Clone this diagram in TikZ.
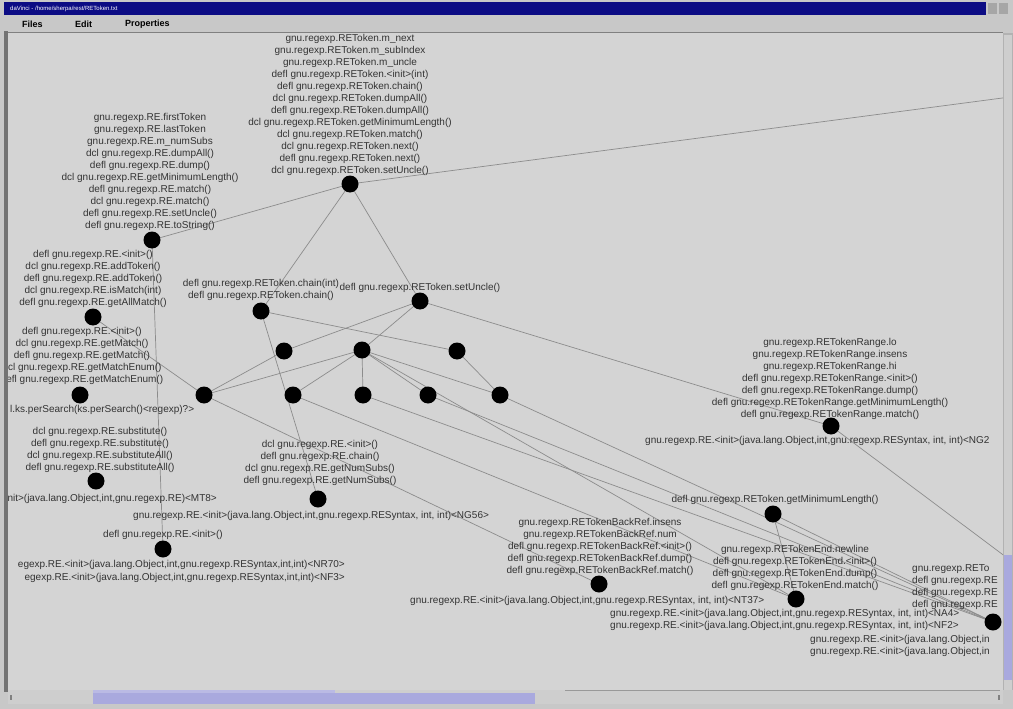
\documentclass[tikz,border=0pt]{standalone}
\usepackage{fontspec}
\setmainfont{Liberation Sans}
\definecolor{canvas}{HTML}{D4D4D4}
\definecolor{frame}{HTML}{C8C8C8}
\definecolor{navy}{HTML}{0C0C84}
\definecolor{lav}{HTML}{A9A9DE}
\begin{document}
\begin{tikzpicture}[x=1pt,y=-1pt,
  dot/.style={circle,fill=black,inner sep=0pt,minimum size=17pt},
  lbl/.style={font=\fontsize{10}{12}\selectfont,align=center,inner sep=0pt,text=black!80},
  edge/.style={draw=black!45,line width=0.7pt},
  menu/.style={font=\fontsize{9}{10}\selectfont\bfseries,inner sep=0pt,anchor=west}]
\useasboundingbox (0,0) rectangle (1013,709);
% window frame
\fill[frame] (0,0) rectangle (1013,709);
\fill[navy] (4,2) rectangle (986,15);
\node[anchor=west,inner sep=0pt,text=white,font=\fontsize{6}{7}\selectfont] (title) at (10,8.5) {daVinci - /home/sherpa/rest/REToken.txt};
\foreach \bx in {988,999}{\fill[black!35] (\bx,3) rectangle (\bx+9,14);}
\node[menu] (mfiles) at (22,24) {Files};
\node[menu] (medit) at (75,24) {Edit};
\node[menu] (mprop) at (125,24) {Properties};
\fill[black!55] (4,31) rectangle (8,692);
\fill[canvas] (8,33) rectangle (1003,690);
\draw[black!50,line width=1pt] (8,32.5) -- (1003,32.5);
% scrollbars
\fill[black!30] (1003,33) rectangle (1013,690);
\fill[frame!90!white] (1004,35) rectangle (1012,690);
\fill[lav] (1004,555) rectangle (1012,680);
\fill[frame!90!white] (8,690) rectangle (1003,704);
\fill[lav!80!white] (93,690) rectangle (335,700);
\fill[lav] (93,693) rectangle (535,704);
\draw[black!40] (565,690) -- (1000,690);
\fill[black!50] (10,695) rectangle (12,700);
\fill[black!50] (998,695) rectangle (1000,700);
\begin{scope}
\clip (8,33) rectangle (1003,690);
% dots positions
\coordinate (A) at (350,184);
\coordinate (B) at (152,240);
\coordinate (C) at (93,317);
\coordinate (D) at (80,395);
\coordinate (H) at (261,311);
\coordinate (I) at (420,301);
\coordinate (Ra) at (284,351);
\coordinate (Rb) at (362,350);
\coordinate (Rc) at (457,351);
\coordinate (Sa) at (204,395);
\coordinate (Sb) at (293,395);
\coordinate (Sc) at (363,395);
\coordinate (Sd) at (428,395);
\coordinate (Se) at (500,395);
\coordinate (J) at (831,426);
\coordinate (E) at (96,481);
\coordinate (F) at (318,499);
\coordinate (K) at (773,514);
\coordinate (G) at (163,549);
\coordinate (L) at (599,584);
\coordinate (M) at (796,599);
\coordinate (N) at (993,622);
\coordinate (ext1) at (1010,97);
\coordinate (ext2) at (1010,560);
% edges
\draw[edge] (A) -- (ext1);
\draw[edge] (A) -- (B);
\draw[edge] (A) -- (H);
\draw[edge] (A) -- (I);
\draw[edge] (B) -- (G);
\draw[edge] (H) -- (F);
\draw[edge] (H) -- (Rc);
\draw[edge] (I) -- (Ra);
\draw[edge] (I) -- (Rb);
\draw[edge] (I) -- (J);
\draw[edge] (Ra) -- (Sa);
\draw[edge] (Rb) -- (Sa);
\draw[edge] (Rb) -- (Sb);
\draw[edge] (Rb) -- (Sc);
\draw[edge] (Rb) -- (Sd);
\draw[edge] (Rb) -- (Se);
\draw[edge] (Rc) -- (Se);
\draw[edge] (C) -- (Sa);
\draw[edge] (Sa) -- (L);
\draw[edge] (Sb) -- (M);
\draw[edge] (Sc) -- (N);
\draw[edge] (Sd) -- (N);
\draw[edge] (Se) -- (N);
\draw[edge] (Rb) -- (M);
\draw[edge] (K) -- (M);
\draw[edge] (K) -- (N);
\draw[edge] (J) -- (ext2);
% labels
\node[lbl] (lA) at (350,105) {gnu.regexp.REToken.m\_next\\gnu.regexp.REToken.m\_subIndex\\gnu.regexp.REToken.m\_uncle\\defl gnu.regexp.REToken.{<}init{>}(int)\\defl gnu.regexp.REToken.chain()\\dcl gnu.regexp.REToken.dumpAll()\\defl gnu.regexp.REToken.dumpAll()\\dcl gnu.regexp.REToken.getMinimumLength()\\dcl gnu.regexp.REToken.match()\\dcl gnu.regexp.REToken.next()\\defl gnu.regexp.REToken.next()\\dcl gnu.regexp.REToken.setUncle()};
\node[lbl] (lB) at (150,172) {gnu.regexp.RE.firstToken\\gnu.regexp.RE.lastToken\\gnu.regexp.RE.m\_numSubs\\dcl gnu.regexp.RE.dumpAll()\\defl gnu.regexp.RE.dump()\\dcl gnu.regexp.RE.getMinimumLength()\\defl gnu.regexp.RE.match()\\dcl gnu.regexp.RE.match()\\defl gnu.regexp.RE.setUncle()\\defl gnu.regexp.RE.toString()};
\node[lbl] (lC) at (93,279) {defl gnu.regexp.RE.{<}init{>}()\\dcl gnu.regexp.RE.addToken()\\defl gnu.regexp.RE.addToken()\\dcl gnu.regexp.RE.isMatch(int)\\defl gnu.regexp.RE.getAllMatch()};
\node[lbl] (lD) at (82,356) {defl gnu.regexp.RE.{<}init{>}()\\dcl gnu.regexp.RE.getMatch()\\defl gnu.regexp.RE.getMatch()\\dcl gnu.regexp.RE.getMatchEnum()\\defl gnu.regexp.RE.getMatchEnum()};
\node[lbl,anchor=west] (lD2) at (10,410) {l.ks.perSearch(ks.perSearch(){<}regexp)?{>}};
\node[lbl] (lE) at (100,450) {dcl gnu.regexp.RE.substitute()\\defl gnu.regexp.RE.substitute()\\dcl gnu.regexp.RE.substituteAll()\\defl gnu.regexp.RE.substituteAll()};
\node[lbl,anchor=east] (lE2) at (217,499) {nit{>}(java.lang.Object,int,gnu.regexp.RE){<}MT8{>}};
\node[lbl,anchor=west] (lF2) at (133,516) {gnu.regexp.RE.{<}init{>}(java.lang.Object,int,gnu.regexp.RESyntax, int, int){<}NG56{>}};
\node[lbl] (lF) at (320,463) {dcl gnu.regexp.RE.{<}init{>}()\\defl gnu.regexp.RE.chain()\\dcl gnu.regexp.RE.getNumSubs()\\defl gnu.regexp.RE.getNumSubs()};
\node[lbl] (lG) at (163,535) {defl gnu.regexp.RE.{<}init{>}()};
\node[lbl,anchor=east] (lG2) at (345,565) {egexp.RE.{<}init{>}(java.lang.Object,int,gnu.regexp.RESyntax,int,int){<}NR70{>}};
\node[lbl,anchor=east] (lG3) at (345,578) {egexp.RE.{<}init{>}(java.lang.Object,int,gnu.regexp.RESyntax,int,int){<}NF3{>}};
\node[lbl] (lH) at (261,290) {defl gnu.regexp.REToken.chain(int)\\defl gnu.regexp.REToken.chain()};
\node[lbl] (lI) at (420,288) {defl gnu.regexp.REToken.setUncle()};
\node[lbl] (lJ) at (830,379) {gnu.regexp.RETokenRange.lo\\gnu.regexp.RETokenRange.insens\\gnu.regexp.RETokenRange.hi\\defl gnu.regexp.RETokenRange.{<}init{>}()\\defl gnu.regexp.RETokenRange.dump()\\defl gnu.regexp.RETokenRange.getMinimumLength()\\defl gnu.regexp.RETokenRange.match()};
\node[lbl,anchor=west] (lJ2) at (645,441) {gnu.regexp.RE.{<}init{>}(java.lang.Object,int,gnu.regexp.RESyntax, int, int){<}NG2};
\node[lbl] (lK) at (775,500) {defl gnu.regexp.REToken.getMinimumLength()};
\node[lbl] (lL) at (600,547) {gnu.regexp.RETokenBackRef.insens\\gnu.regexp.RETokenBackRef.num\\defl gnu.regexp.RETokenBackRef.{<}init{>}()\\defl gnu.regexp.RETokenBackRef.dump()\\defl gnu.regexp.RETokenBackRef.match()};
\node[lbl,anchor=west] (lL2) at (410,601) {gnu.regexp.RE.{<}init{>}(java.lang.Object,int,gnu.regexp.RESyntax, int, int){<}NT37{>}};
\node[lbl] (lM) at (795,568) {gnu.regexp.RETokenEnd.newline\\defl gnu.regexp.RETokenEnd.{<}init{>}()\\defl gnu.regexp.RETokenEnd.dump()\\defl gnu.regexp.RETokenEnd.match()};
\node[lbl,anchor=west] (lM2) at (610,614) {gnu.regexp.RE.{<}init{>}(java.lang.Object,int,gnu.regexp.RESyntax, int, int){<}NA4{>}};
\node[lbl,anchor=west] (lM3) at (610,626) {gnu.regexp.RE.{<}init{>}(java.lang.Object,int,gnu.regexp.RESyntax, int, int){<}NF2{>}};
\node[lbl,anchor=west,align=left] (lN) at (912,587) {gnu.regexp.RETo\\defl gnu.regexp.RE\\defl gnu.regexp.RE\\defl gnu.regexp.RE};
\node[lbl,anchor=west] (lN2) at (810,640) {gnu.regexp.RE.{<}init{>}(java.lang.Object,in};
\node[lbl,anchor=west] (lN3) at (810,652) {gnu.regexp.RE.{<}init{>}(java.lang.Object,in};
% dots
\foreach \n in {A,B,C,D,H,I,Ra,Rb,Rc,Sa,Sb,Sc,Sd,Se,J,E,F,K,G,L,M,N}{\node[dot] (d\n) at (\n) {};}
\end{scope}
\end{tikzpicture}
\end{document}
